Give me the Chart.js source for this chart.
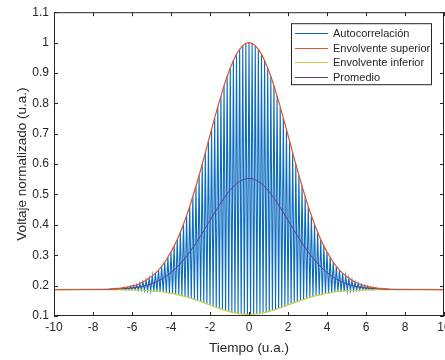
<!DOCTYPE html>
<html lang="es">
<head>
<meta charset="UTF-8">
<title>Autocorrelación</title>
<script src="https://cdn.jsdelivr.net/npm/chart.js"></script>
<style>
  html, body { margin: 0; padding: 0; background: #fff; overflow: hidden; }
  #marco { width: 445px; height: 360px; overflow: hidden; }
  canvas { display: block; }
</style>
</head>
<body>
<div id="marco"><canvas id="grafico" width="464" height="360"></canvas></div>
<script>
// Valores (u.a.)
const pasoFranja = 0.16;      // separación entre máximos de la autocorrelación
const inicioPicos = -7.2;
const inicioValles = -7.12;
const nivelBase = 0.187;
const limitesTiempo = [-10, 10];

// máximos de la autocorrelación (= envolvente superior)
const picos = [
  0.188, 0.189, 0.190, 0.191, 0.192, 0.194, 0.195, 0.198, 0.200, 0.203,
  0.207, 0.212, 0.218, 0.224, 0.232, 0.241, 0.251, 0.263, 0.277, 0.294,
  0.311, 0.330, 0.352, 0.376, 0.402, 0.431, 0.461, 0.494, 0.528, 0.563,
  0.600, 0.637, 0.676, 0.714, 0.752, 0.789, 0.824, 0.858, 0.889, 0.916,
  0.941, 0.962, 0.978, 0.990, 0.998,
  1.000,
  0.998, 0.990, 0.978, 0.962, 0.941, 0.916, 0.889, 0.858, 0.824, 0.789,
  0.752, 0.714, 0.676, 0.637, 0.600, 0.563, 0.528, 0.494, 0.461, 0.431,
  0.402, 0.376, 0.352, 0.330, 0.311, 0.294, 0.277, 0.263, 0.251, 0.241,
  0.232, 0.224, 0.218, 0.212, 0.207, 0.203, 0.200, 0.198, 0.195, 0.194,
  0.192, 0.191, 0.190, 0.189, 0.188
];

// mínimos de la autocorrelación (= envolvente inferior)
const valles = [
  0.187, 0.187, 0.187, 0.187, 0.187, 0.186, 0.186, 0.186, 0.186, 0.185,
  0.185, 0.184, 0.184, 0.183, 0.182, 0.181, 0.180, 0.179, 0.177, 0.175,
  0.174, 0.171, 0.169, 0.167, 0.164, 0.161, 0.158, 0.154, 0.151, 0.147,
  0.144, 0.140, 0.136, 0.132, 0.128, 0.125, 0.121, 0.118, 0.115, 0.112,
  0.110, 0.108, 0.107, 0.106, 0.105,
  0.105, 0.106, 0.107, 0.108, 0.110, 0.112, 0.115, 0.118, 0.121, 0.125,
  0.128, 0.132, 0.136, 0.140, 0.144, 0.147, 0.151, 0.154, 0.158, 0.161,
  0.164, 0.167, 0.169, 0.171, 0.174, 0.175, 0.177, 0.179, 0.180, 0.181,
  0.182, 0.183, 0.184, 0.184, 0.185, 0.185, 0.186, 0.186, 0.186, 0.186,
  0.187, 0.187, 0.187, 0.187, 0.187
];

const tiempoPromedio = [
  -10, -9.5, -9, -8.5, -8, -7.5, -7, -6.5, -6, -5.5, -5, -4.5, -4, -3.5, -3, -2.5, -2, -1.5, -1, -0.5,
  0, 0.5, 1, 1.5, 2, 2.5, 3, 3.5, 4, 4.5, 5, 5.5, 6, 6.5, 7, 7.5, 8, 8.5, 9, 9.5, 10
];
const promedio = [
  0.187, 0.187, 0.187, 0.187, 0.187, 0.187, 0.188, 0.190, 0.192, 0.197,
  0.206, 0.221, 0.243, 0.274, 0.314, 0.362, 0.415, 0.467, 0.512, 0.542,
  0.553,
  0.542, 0.512, 0.467, 0.415, 0.362, 0.314, 0.274, 0.243, 0.221, 0.206,
  0.197, 0.192, 0.190, 0.188, 0.187, 0.187, 0.187, 0.187, 0.187, 0.187
];

const etiquetas = ['Autocorrelación', 'Envolvente superior', 'Envolvente inferior', 'Promedio'];
const colores = ['#0b6cbf', '#e0552a', '#c9d23e', '#5b3c8c'];

// puntos para la librería
const tPicos = picos.map((_, i) => +(inicioPicos + i * pasoFranja).toFixed(2));
const tValles = valles.map((_, i) => +(inicioValles + i * pasoFranja).toFixed(2));
const inicio = { x: limitesTiempo[0], y: nivelBase };
const fin = { x: limitesTiempo[1], y: nivelBase };

const puntosAuto = [inicio];
picos.forEach((p, i) => {
  puntosAuto.push({ x: tPicos[i], y: p });
  if (i < valles.length) puntosAuto.push({ x: tValles[i], y: valles[i] });
});
puntosAuto.push(fin);
const puntosSup = [inicio, ...picos.map((p, i) => ({ x: tPicos[i], y: p })), fin];
const puntosInf = [inicio, ...valles.map((v, i) => ({ x: tValles[i], y: v })), fin];
const puntosProm = promedio.map((v, i) => ({ x: tiempoPromedio[i], y: v }));

const colorEje = '#262626';
const fuente = '"Liberation Sans", Arial, sans-serif';

// marco con marcas hacia dentro y leyenda tipo MATLAB
const marcoMatlab = {
  id: 'marcoMatlab',
  afterDatasetsDraw(chart) {
    const { ctx, chartArea: a, scales } = chart;
    ctx.save();
    ctx.strokeStyle = colorEje;
    ctx.lineWidth = 1;
    ctx.strokeRect(a.left + 0.5, a.top + 0.5, a.right - a.left - 1, a.bottom - a.top - 1);
    const lt = 4;
    ctx.beginPath();
    scales.x.ticks.forEach(t => {
      const px = Math.round(scales.x.getPixelForValue(t.value)) + 0.5;
      ctx.moveTo(px, a.bottom); ctx.lineTo(px, a.bottom - lt);
      ctx.moveTo(px, a.top); ctx.lineTo(px, a.top + lt);
    });
    scales.y.ticks.forEach(t => {
      const py = Math.round(scales.y.getPixelForValue(t.value)) + 0.5;
      ctx.moveTo(a.left, py); ctx.lineTo(a.left + lt, py);
      ctx.moveTo(a.right, py); ctx.lineTo(a.right - lt, py);
    });
    ctx.stroke();

    // leyenda
    const ancho = 141, alto = 62;
    const x0 = a.right - 12 - ancho, y0 = a.top + 11;
    ctx.fillStyle = '#fff';
    ctx.fillRect(x0, y0, ancho, alto);
    ctx.strokeRect(x0 + 0.5, y0 + 0.5, ancho - 1, alto - 1);
    ctx.font = '11px ' + fuente;
    ctx.textBaseline = 'middle';
    chart.data.datasets.forEach((ds, i) => {
      const yy = Math.round(y0 + 9.5 + i * 14.8) + 0.5;
      ctx.strokeStyle = ds.borderColor;
      ctx.lineWidth = 1;
      ctx.beginPath();
      ctx.moveTo(x0 + 4, yy); ctx.lineTo(x0 + 37, yy);
      ctx.stroke();
      ctx.fillStyle = colorEje;
      ctx.fillText(ds.label, x0 + 42, yy);
    });
    ctx.restore();
  }
};

new Chart(document.getElementById('grafico'), {
  type: 'line',
  data: {
    datasets: [
      { label: etiquetas[0], data: puntosAuto, borderColor: colores[0], borderWidth: 1.1, order: 4 },
      { label: etiquetas[1], data: puntosSup, borderColor: colores[1], borderWidth: 1.2, order: 1 },
      { label: etiquetas[2], data: puntosInf, borderColor: colores[2], borderWidth: 1.2, order: 3 },
      { label: etiquetas[3], data: puntosProm, borderColor: colores[3], borderWidth: 1, order: 2,
        cubicInterpolationMode: 'monotone' }
    ]
  },
  options: {
    responsive: false,
    animation: false,
    events: [],
    layout: { padding: { top: 9, right: 20, left: 0, bottom: 0 } },
    elements: { point: { radius: 0 }, line: { tension: 0 } },
    plugins: { legend: { display: false }, tooltip: { enabled: false } },
    scales: {
      x: {
        type: 'linear', min: -10, max: 10,
        ticks: { stepSize: 2, padding: 4, color: colorEje, autoSkip: false, maxRotation: 0,
                 font: { family: fuente, size: 12 }, callback: v => String(v) },
        grid: { display: false, drawTicks: false },
        border: { display: false },
        title: { display: true, text: 'Tiempo (u.a.)', color: colorEje,
                 font: { family: fuente, size: 13.5 }, padding: { top: 0, bottom: 4 } },
        afterFit: s => { s.height = 44; }
      },
      y: {
        min: 0.1, max: 1.1,
        ticks: { stepSize: 0.1, padding: 5, color: colorEje,
                 font: { family: fuente, size: 12 }, callback: v => String(+v.toFixed(1)) },
        grid: { display: false, drawTicks: false },
        border: { display: false },
        title: { display: true, text: 'Voltaje normalizado (u.a.)', color: colorEje,
                 font: { family: fuente, size: 13.5 }, padding: { top: 14, bottom: 0 } },
        afterFit: s => { s.width = 54; }
      }
    }
  },
  plugins: [marcoMatlab]
});
</script>
</body>
</html>
